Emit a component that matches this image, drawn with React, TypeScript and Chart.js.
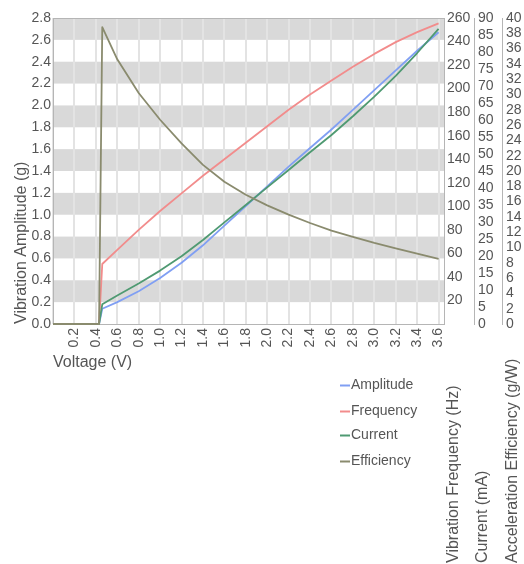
import { useEffect, useRef } from "react";
import { Chart, registerables } from "chart.js";

Chart.register(...registerables);

// ---- data ----
const voltage = [0, 0.2, 0.4, 0.43, 0.46, 0.6, 0.8, 1.0, 1.2, 1.4, 1.6, 1.8, 2.0, 2.2, 2.4, 2.6, 2.8, 3.0, 3.2, 3.4, 3.6];
const amplitude = [0, 0, 0, 0, 0.14, 0.2, 0.3, 0.42, 0.56, 0.72, 0.9, 1.08, 1.26, 1.44, 1.61, 1.78, 1.96, 2.14, 2.32, 2.5, 2.67];
const frequency = [0, 0, 0, 0, 51, 63, 80, 96, 111, 126, 140, 154, 168, 182, 195, 207, 218.5, 229.5, 239.5, 248, 255.5];
const current = [0, 0, 0, 0, 5.8, 8.4, 11.9, 15.7, 19.9, 24.7, 29.9, 35.0, 40.2, 45.3, 50.5, 55.6, 61.1, 66.9, 73.0, 79.7, 86.8];
const efficiency = [0, 0, 0, 0, 38.8, 34.6, 30.2, 26.7, 23.6, 20.8, 18.6, 16.9, 15.5, 14.3, 13.2, 12.2, 11.4, 10.6, 9.9, 9.2, 8.5];

const seriesNames = ["Amplitude", "Frequency", "Current", "Efficiency"];
const seriesColors = ["#809ff3", "#f28c8c", "#4f9a72", "#8a8b6e"];
const seriesOrder = [3, 2, 1, 0];

const xTickValues = [0, 0.2, 0.4, 0.6, 0.8, 1.0, 1.2, 1.4, 1.6, 1.8, 2.0, 2.2, 2.4, 2.6, 2.8, 3.0, 3.2, 3.4, 3.6];
const bandStarts = [0.2, 0.6, 1.0, 1.4, 1.8, 2.2, 2.6];

const xTitle = "Voltage (V)";
const yTitle = "Vibration Amplitude (g)";
const freqTitle = "Vibration Frequency (Hz)";
const currentTitle = "Current (mA)";
const effTitle = "Acceleration Efficiency (g/W)";

const FONT = "'Liberation Sans', Arial, sans-serif";
const TEXT = "#555555";

export default function App() {
  const ref = useRef<HTMLCanvasElement>(null);

  useEffect(() => {
    if (!ref.current) return;

    const bandsPlugin = {
      id: "bands",
      beforeDraw(chart: any) {
        const { ctx, chartArea: a, scales } = chart;
        const y = scales.y;
        ctx.save();
        ctx.fillStyle = "#ffffff";
        ctx.fillRect(a.left, a.top, a.right - a.left, a.bottom - a.top);
        ctx.fillStyle = "#d9d9d9";
        for (const s of bandStarts) {
          const y1 = y.getPixelForValue(s + 0.2);
          const y2 = y.getPixelForValue(s);
          ctx.fillRect(a.left, y1, a.right - a.left, y2 - y1);
        }
        ctx.restore();
      },
      beforeDatasetsDraw(chart: any) {
        const { ctx, chartArea: a } = chart;
        ctx.save();
        ctx.strokeStyle = "#b5b5b5";
        ctx.lineWidth = 1;
        ctx.strokeRect(a.left + 0.5, a.top + 0.5, a.right - a.left - 1, a.bottom - a.top);
        ctx.restore();
      },
      afterDraw(chart: any) {
        const { ctx } = chart;
        ctx.save();
        // right axis titles (bottom-anchored)
        ctx.fillStyle = TEXT;
        ctx.font = `16px ${FONT}`;
        ctx.textAlign = "left";
        ctx.textBaseline = "middle";
        const titles: [string, number][] = [
          [freqTitle, 454],
          [currentTitle, 483],
          [effTitle, 513],
        ];
        for (const [t, x] of titles) {
          ctx.save();
          ctx.translate(x, 563);
          ctx.rotate(-Math.PI / 2);
          ctx.fillText(t, 0, 0);
          ctx.restore();
        }
        // legend
        ctx.font = `14px ${FONT}`;
        const rows = [385, 411, 435, 461];
        seriesNames.forEach((name, i) => {
          const y = rows[i];
          ctx.strokeStyle = seriesColors[i];
          ctx.lineWidth = 2;
          ctx.beginPath();
          ctx.moveTo(340, y + 0.5);
          ctx.lineTo(350, y + 0.5);
          ctx.stroke();
          ctx.fillStyle = TEXT;
          ctx.fillText(name, 351, y);
        });
        ctx.restore();
      },
    };

    const mk = (vals: number[]) => voltage.map((v, i) => ({ x: v, y: vals[i] }));
    const axisIds = ["y", "yFreq", "yCur", "yEff"];
    const allVals = [amplitude, frequency, current, efficiency];

    const tickFont = { family: FONT, size: 14 };

    const chart = new Chart(ref.current, {
      type: "line",
      data: {
        datasets: seriesNames.map((name, i) => ({
          label: name,
          data: mk(allVals[i]),
          yAxisID: axisIds[i],
          order: seriesOrder[i],
          borderColor: seriesColors[i],
          backgroundColor: seriesColors[i],
          borderWidth: 1.8,
          borderJoinStyle: "round",
          pointRadius: 0,
          tension: 0,
          clip: false as any,
        })),
      },
      options: {
        animation: false,
        responsive: true,
        maintainAspectRatio: false,
        layout: { padding: { top: 18, left: 0, right: 0, bottom: 190 } },
        plugins: { legend: { display: false }, tooltip: { enabled: false } },
        scales: {
          x: {
            type: "linear",
            min: 0,
            max: 3.66,
            afterBuildTicks: (s: any) => {
              s.ticks = xTickValues.map((v) => ({ value: v }));
            },
            afterFit: (s: any) => {
              s.height = 50;
            },
            grid: { color: "#e3e3e3", lineWidth: 2, drawTicks: false },
            border: { display: false },
            ticks: {
              autoSkip: false,
              minRotation: 90,
              maxRotation: 90,
              padding: 4,
              color: TEXT,
              font: tickFont,
              callback: (v: any) => (Number(v) === 0 ? "" : Number(v).toFixed(1)),
            },
            title: {
              display: true,
              text: xTitle,
              align: "start",
              color: TEXT,
              font: { family: FONT, size: 16 },
              padding: { top: 0, bottom: 2 },
            },
          },
          y: {
            type: "linear",
            position: "left",
            min: 0,
            max: 2.8,
            afterFit: (s: any) => {
              s.width = 53;
            },
            grid: { display: false, drawTicks: false },
            border: { display: false },
            ticks: {
              stepSize: 0.2,
              autoSkip: false,
              padding: 2,
              color: TEXT,
              font: tickFont,
              callback: (v: any) => Number(v).toFixed(1),
            },
            title: {
              display: true,
              text: yTitle,
              align: "start",
              color: TEXT,
              font: { family: FONT, size: 16 },
              padding: { top: 12, bottom: 0 },
            },
          },
          yFreq: {
            type: "linear",
            position: "right",
            min: 0,
            max: 260,
            afterFit: (s: any) => {
              s.width = 29;
            },
            grid: { display: false, drawTicks: false },
            border: { display: false },
            ticks: {
              stepSize: 20,
              autoSkip: false,
              padding: 2,
              color: TEXT,
              font: tickFont,
              callback: (v: any) => (Number(v) === 0 ? "" : String(v)),
            },
          },
          yCur: {
            type: "linear",
            position: "right",
            min: 0,
            max: 90,
            afterFit: (s: any) => {
              s.width = 28;
            },
            grid: { display: false, drawTicks: false },
            border: { display: true, color: "#b5b5b5" },
            ticks: {
              stepSize: 5,
              autoSkip: false,
              padding: 4,
              color: TEXT,
              font: tickFont,
            },
          },
          yEff: {
            type: "linear",
            position: "right",
            min: 0,
            max: 40,
            afterFit: (s: any) => {
              s.width = 22;
            },
            grid: { display: false, drawTicks: false },
            border: { display: true, color: "#b5b5b5" },
            ticks: {
              stepSize: 2,
              autoSkip: false,
              padding: 4,
              color: TEXT,
              font: tickFont,
            },
          },
        },
      } as any,
      plugins: [bandsPlugin],
    });

    return () => chart.destroy();
  }, []);

  return (
    <div style={{ position: "absolute", left: 0, top: 0, width: 524, height: 564 }}>
      <canvas ref={ref} />
    </div>
  );
}
